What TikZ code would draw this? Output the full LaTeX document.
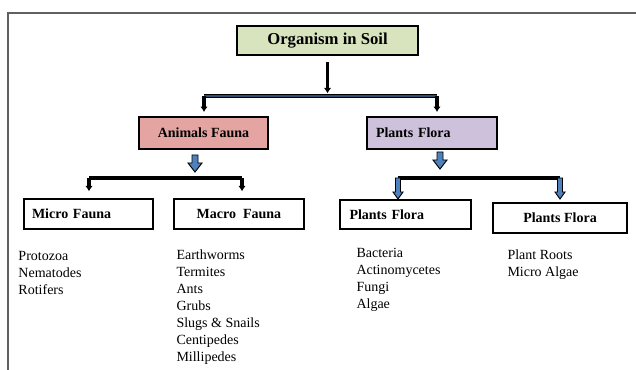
\documentclass[tikz,border=0pt]{standalone}
\usepackage{fontspec}
\setmainfont{Liberation Serif}
\usetikzlibrary{arrows.meta}

\definecolor{soilgreen}{RGB}{215,228,189}
\definecolor{faunapink}{RGB}{228,164,161}
\definecolor{florapurple}{RGB}{205,193,219}
\definecolor{arrowblue}{RGB}{79,129,189}
\definecolor{framegray}{RGB}{96,96,96}

\tikzset{every picture/.style={line width=0.75pt}}

\begin{document}
\begin{tikzpicture}[x=0.75pt,y=0.75pt,yscale=-1,xscale=1,
    catbox/.style={draw, line width=1.5pt, inner sep=0pt, font=\bfseries\fontsize{10.5}{12}\selectfont},
    leftbox/.style={catbox, align=left, inner xsep=6pt},
    listtext/.style={inner sep=0pt, align=left, font=\fontsize{10.5}{12.75}\selectfont},
    stem/.style={line width=2.3pt, -{Latex[length=4pt,width=5.5pt]}},
    bracket/.style={line width=2.3pt},
    bigdown/.pic={\draw[fill=arrowblue, line width=0.7pt] (-3,0) -- (-3,-8) -- (-7,-8) -- (0,-17) -- (7,-8) -- (3,-8) -- (3,0) -- cycle;},
    thindown/.pic={\draw[fill=arrowblue, line width=0.7pt] (-2.5,0) -- (-2.5,-14) -- (-5,-14) -- (0,-21) -- (5,-14) -- (2.5,-14) -- (2.5,0) -- cycle;}
  ]
\useasboundingbox (0,0) rectangle (636,370);

% frame
\draw[framegray, line width=1.5pt] (8,372) -- (8,13) -- (638,13);

% boxes
\node[catbox, fill=soilgreen, minimum width=135.75pt, minimum height=21.75pt, font=\bfseries\fontsize{12.5}{14}\selectfont] (soil) at (327.5,41) {Organism in Soil};
\node[catbox, fill=faunapink, minimum width=96.75pt, minimum height=24pt] (animals) at (203.5,133) {Animals Fauna};
\node[catbox, fill=florapurple, minimum width=97.5pt, minimum height=24pt, align=left, text width=84pt, inner xsep=6.75pt] (plants) at (432,133) {Plants Flora};
\node[leftbox, text width=84.75pt, minimum height=22.5pt] (micro) at (88.5,214) {Micro Fauna};
\node[catbox, minimum width=97.5pt, minimum height=22.5pt] (macro) at (239,214) {Macro \ Fauna};
\node[leftbox, text width=83.25pt, inner xsep=7.5pt, minimum height=22pt] (flora) at (405,214.5) {Plants Flora};
\node[catbox, minimum width=100pt, minimum height=22.5pt] (roots) at (560,218) {Plants Flora};

% first split
\coordinate (split) at (327.5,96);
\coordinate (barL) at (204,96);
\coordinate (barR) at (437,96);
\draw[stem, shorten <=4.5pt, shorten >=2pt] (soil.south) -- (split);
\draw[line width=3pt] (barL) -- (barR);
\draw[arrowblue!60!black, line width=1pt] (barL) -- (barR);
\draw[stem, shorten >=3pt] (barL) -- (barL |- animals.north);
\draw[stem, shorten >=3pt] (barR) -- (barR |- plants.north);

% fauna split
\pic at (195,155) {bigdown};
\coordinate (faunaL) at (89,178);
\coordinate (faunaR) at (242,178);
\draw[bracket] (faunaL) -- (faunaR);
\draw[stem, shorten >=5pt] (faunaL) -- (faunaL |- micro.north);
\draw[stem, shorten >=5pt] (faunaR) -- (faunaR |- macro.north);

% flora split
\pic at (440,152) {bigdown};
\coordinate (floraL) at (398,178);
\coordinate (floraR) at (560,178);
\draw[bracket] (floraL) -- (floraR);
\pic at (floraL) {thindown};
\pic at (floraR) {thindown};

% lists
\node[listtext, anchor=north west] (microlist) at (18,250.5) {Protozoa\\Nematodes\\Rotifers};
\node[listtext, anchor=north west] (macrolist) at (176,249.5) {Earthworms\\Termites\\Ants\\Grubs\\Slugs \& Snails\\Centipedes\\Millipedes};
\node[listtext, anchor=north west] (floralist) at (356,247.5) {Bacteria\\Actinomycetes\\Fungi\\Algae};
\node[listtext, anchor=north west] (rootlist) at (507,249.5) {Plant Roots\\Micro Algae};

\end{tikzpicture}
\end{document}
